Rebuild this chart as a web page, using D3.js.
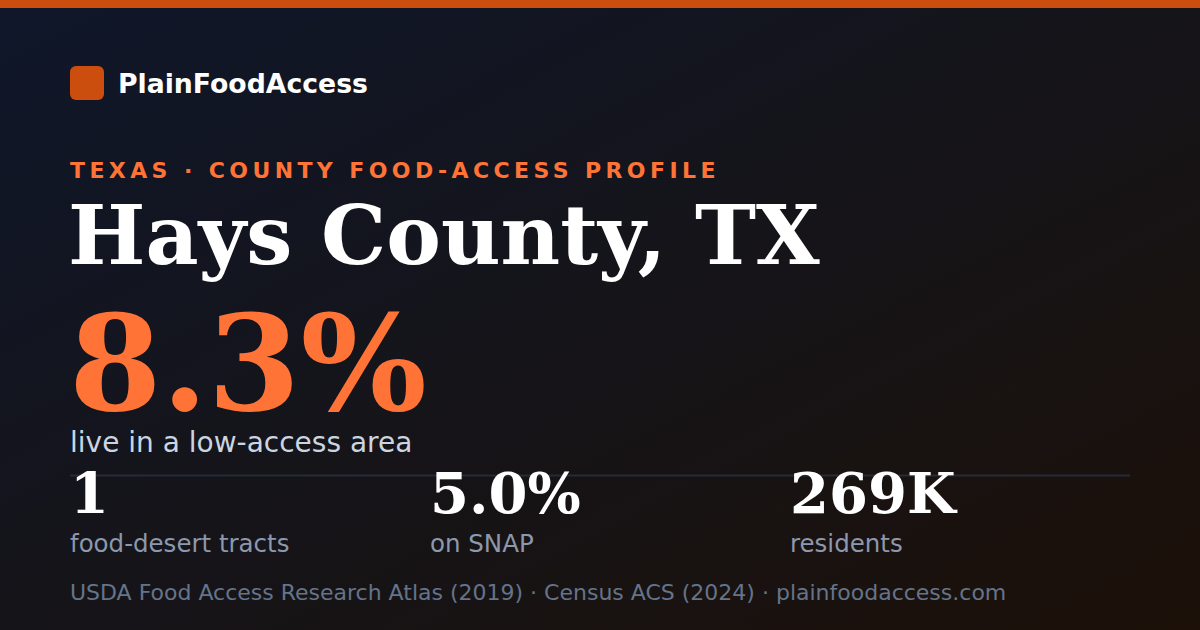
<!DOCTYPE html>
<html><head><meta charset="utf-8">
<script src="https://cdn.jsdelivr.net/npm/d3@7/dist/d3.min.js"></script>
<style>html,body{margin:0;padding:0;background:#111;}svg{display:block;}</style>
</head><body>
<script>
const brand = "PlainFoodAccess";
const kicker = "TEXAS · COUNTY FOOD-ACCESS PROFILE";
const title = "Hays County, TX";
const headlineValue = ["8.3%"];
const headlineLabel = ["live in a low-access area"];
const statValues = ["1", "5.0%", "269K"];
const statLabels = ["food-desert tracts", "on SNAP", "residents"];
const footer = "USDA Food Access Research Atlas (2019) · Census ACS (2024) · plainfoodaccess.com";

const W = 1200, H = 630;
const svg = d3.select("body").append("svg").attr("width", W).attr("height", H);
const defs = svg.append("defs");
const g = defs.append("linearGradient").attr("id","bg").attr("x1","0").attr("y1","0").attr("x2","1").attr("y2","1");
g.append("stop").attr("offset","0%").attr("stop-color","#0f172a");
g.append("stop").attr("offset","50%").attr("stop-color","#151419");
g.append("stop").attr("offset","100%").attr("stop-color","#1c1008");
svg.append("rect").attr("width",W).attr("height",H).attr("fill","url(#bg)");
svg.append("rect").attr("width",W).attr("height",8).attr("fill","#cc4e0e");

const sans = "'DejaVu Sans', sans-serif";
const serif = "'DejaVu Serif', serif";

svg.append("rect").attr("x",70).attr("y",66).attr("width",34).attr("height",34).attr("rx",6).attr("fill","#cc4e0e");
svg.append("text").attr("x",118).attr("y",93).attr("font-family",sans).attr("font-weight","bold")
  .attr("font-size",26.7).attr("fill","#ffffff").text(brand);

svg.append("text").attr("x",70).attr("y",178).attr("font-family",sans).attr("font-weight","bold")
  .attr("font-size",22).attr("letter-spacing",4.4).attr("fill","#ff7336").text(kicker);

svg.append("text").attr("x",68).attr("y",264).attr("font-family",serif).attr("font-weight","bold")
  .attr("font-size",82).attr("fill","#ffffff").text(title);

svg.selectAll("text.hv").data(headlineValue).join("text").attr("class","hv")
  .attr("x",69).attr("y",410).attr("font-family",serif).attr("font-weight","bold")
  .attr("font-size",133).attr("fill","#ff7336").text(d=>d);
svg.selectAll("text.hl").data(headlineLabel).join("text").attr("class","hl")
  .attr("x",70).attr("y",452).attr("font-family",sans)
  .attr("font-size",28).attr("fill","#cbd5e1").text(d=>d);

svg.append("line").attr("x1",70).attr("x2",1130).attr("y1",475.5).attr("y2",475.5)
  .attr("stroke","#262b36").attr("stroke-width",2);

const x = d3.scalePoint().domain(d3.range(statValues.length)).range([70, 790]);
const cols = svg.selectAll("g.stat").data(statValues.map((v,i)=>({v, l: statLabels[i], i})))
  .join("g").attr("class","stat").attr("transform", d=>`translate(${x(d.i)},0)`);
cols.append("text").attr("y",513).attr("font-family",serif).attr("font-weight","bold")
  .attr("font-size",56).attr("fill","#ffffff").text(d=>d.v);
cols.append("text").attr("y",552).attr("font-family",sans)
  .attr("font-size",24.5).attr("fill","#8b98ad").text(d=>d.l);

svg.append("text").attr("x",70).attr("y",600).attr("font-family",sans)
  .attr("font-size",22).attr("fill","#64748b").text(footer);
</script>
</body></html>
